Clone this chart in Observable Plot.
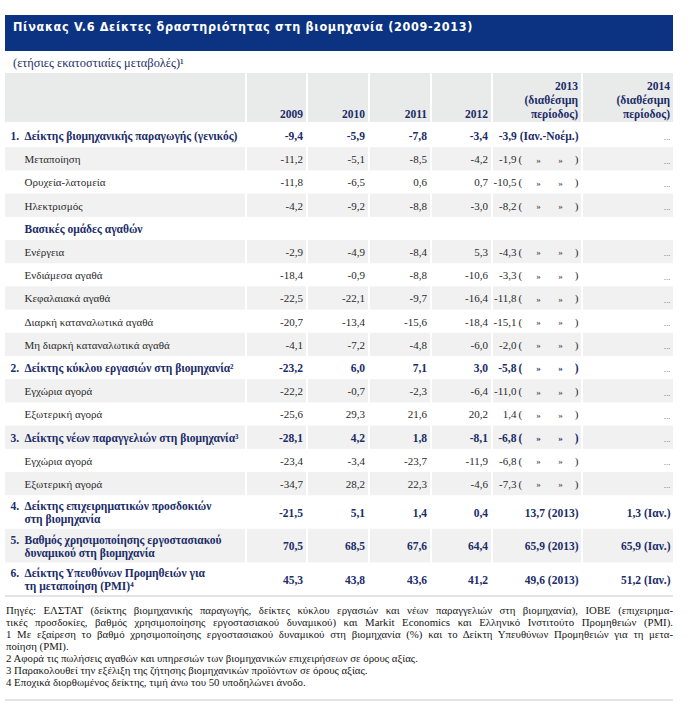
<!DOCTYPE html>
<html><head><meta charset="utf-8">
<script src="https://cdn.jsdelivr.net/npm/d3@7"></script>
<script src="https://cdn.jsdelivr.net/npm/@observablehq/plot@0.6"></script>
<style>
body{margin:0;background:#fff;width:691px;height:704px;position:relative;overflow:hidden;font-family:"Liberation Serif","Times New Roman",Times,"DejaVu Serif",serif;}
#title{position:absolute;left:5px;top:15px;width:668px;height:36px;background:#0b3382;}
#title span{position:absolute;left:8px;top:4px;color:#fff;font-weight:bold;font-size:12.5px;font-family:"DejaVu Sans Condensed","DejaVu Sans",sans-serif;letter-spacing:0.68px;line-height:16px;white-space:nowrap;}
#sub{position:absolute;left:13px;top:56px;font-size:12.4px;color:#1f2f6a;line-height:14px;white-space:nowrap;}
#chart{position:absolute;left:0;top:70px;}
#notes{position:absolute;left:5px;top:595px;width:667px;border-top:2px solid #e4e4e4;border-bottom:2px solid #e4e4e4;padding:6.9px 0 10.4px 1px;font-size:10.8px;line-height:12.1px;color:#151515;}
#notes div{white-space:nowrap;}
#notes div.j{text-align:justify;text-align-last:justify;white-space:normal;}
</style>
</head>
<body>
<div id="title"><span id="titletext"></span></div>
<div id="sub"></div>
<div id="chart"></div>
<div id="notes"></div>
<script>
// ---------- data ----------
const title = "Πίνακας V.6 Δείκτες δραστηριότητας στη βιομηχανία (2009-2013)";
const subtitle = "(ετήσιες εκατοστιαίες μεταβολές)¹";
const columnHeaders = ["", "2009", "2010", "2011", "2012", "2013\n(διαθέσιμη\nπερίοδος)", "2014\n(διαθέσιμη\nπερίοδος)"];
const itemNo = ["1.", "", "", "", "", "", "", "", "", "", "2.", "", "", "3.", "", "", "4.", "5.", "6."];
const labels = [
  "Δείκτης βιομηχανικής παραγωγής (γενικός)",
  "Μεταποίηση",
  "Ορυχεία-λατομεία",
  "Ηλεκτρισμός",
  "Βασικές ομάδες αγαθών",
  "Ενέργεια",
  "Ενδιάμεσα αγαθά",
  "Κεφαλαιακά αγαθά",
  "Διαρκή καταναλωτικά αγαθά",
  "Μη διαρκή καταναλωτικά αγαθά",
  "Δείκτης κύκλου εργασιών στη βιομηχανία²",
  "Εγχώρια αγορά",
  "Εξωτερική αγορά",
  "Δείκτης νέων παραγγελιών στη βιομηχανία³",
  "Εγχώρια αγορά",
  "Εξωτερική αγορά",
  "Δείκτης επιχειρηματικών προσδοκιών\nστη βιομηχανία",
  "Βαθμός χρησιμοποίησης εργοστασιακού\nδυναμικού στη βιομηχανία",
  "Δείκτης Υπευθύνων Προμηθειών για\nτη μεταποίηση (PMI)⁴"
];
const v2009 = [-9.4, -11.2, -11.8, -4.2, null, -2.9, -18.4, -22.5, -20.7, -4.1, -23.2, -22.2, -25.6, -28.1, -23.4, -34.7, -21.5, 70.5, 45.3];
const v2010 = [-5.9, -5.1, -6.5, -9.2, null, -4.9, -0.9, -22.1, -13.4, -7.2, 6.0, -0.7, 29.3, 4.2, -3.4, 28.2, 5.1, 68.5, 43.8];
const v2011 = [-7.8, -8.5, 0.6, -8.8, null, -8.4, -8.8, -9.7, -15.6, -4.8, 7.1, -2.3, 21.6, 1.8, -23.7, 22.3, 1.4, 67.6, 43.6];
const v2012 = [-3.4, -4.2, 0.7, -3.0, null, 5.3, -10.6, -16.4, -18.4, -6.0, 3.0, -6.4, 20.2, -8.1, -11.9, -4.6, 0.4, 64.4, 41.2];
const v2013 = [-3.9, -1.9, -10.5, -8.2, null, -4.3, -3.3, -11.8, -15.1, -2.0, -5.8, -11.0, 1.4, -6.8, -6.8, -7.3, 13.7, 65.9, 49.6];
const period2013 = ["Ιαν.-Νοέμ.", "»", "»", "»", null, "»", "»", "»", "»", "»", "»", "»", "»", "»", "»", "»", "2013", "2013", "2013"];
const v2014 = [null, null, null, null, null, null, null, null, null, null, null, null, null, null, null, null, 1.3, 65.9, 51.2];
const period2014 = [null, null, null, null, null, null, null, null, null, null, null, null, null, null, null, null, "Ιαν.", "Ιαν.", "Ιαν."];
const notes = [
  "Πηγές: ΕΛΣΤΑΤ (δείκτης βιομηχανικής παραγωγής, δείκτες κύκλου εργασιών και νέων παραγγελιών στη βιομηχανία), ΙΟΒΕ (επιχειρημα-",
  "τικές προσδοκίες, βαθμός χρησιμοποίησης εργοστασιακού δυναμικού) και Markit Economics και Ελληνικό Ινστιτούτο Προμηθειών (PMI).",
  "1 Με εξαίρεση το βαθμό χρησιμοποίησης εργοστασιακού δυναμικού στη βιομηχανία (%) και το Δείκτη Υπευθύνων Προμηθειών για τη μετα-",
  "ποίηση (PMI).",
  "2 Αφορά τις πωλήσεις αγαθών και υπηρεσιών των βιομηχανικών επιχειρήσεων σε όρους αξίας.",
  "3 Παρακολουθεί την εξέλιξη της ζήτησης βιομηχανικών προϊόντων σε όρους αξίας.",
  "4 Εποχικά διορθωμένος δείκτης, τιμή άνω του 50 υποδηλώνει άνοδο."
];
const justifiedNotes = [true, true, true, false, false, false, false];

// ---------- layout (not data) ----------
const W = 691, H = 530;
const cols = [[5, 245], [247, 306], [308, 368], [370, 430], [432, 491], [493, 581], [583, 673]];
const headerY = [3, 52], rowTop = 54, rowH = 23.2, tallH = 33.6;
const navy = "#1b2c68", ink = "#2a2a2a", dots = "#666";
const headerFill = "#e9eaea", rowFill = "#f1f1f1";
const fs = 11, fsBold = 11.5;
const serif = '"Liberation Serif", "Times New Roman", Times, "DejaVu Serif", serif';

// ---------- build ----------
document.getElementById("titletext").textContent = title;
document.getElementById("sub").textContent = subtitle;
const notesEl = document.getElementById("notes");
notes.forEach((t, i) => {
  const d = document.createElement("div");
  d.textContent = t;
  if (justifiedNotes[i]) d.className = "j";
  notesEl.appendChild(d);
});

const fmt = v => v.toFixed(1).replace(".", ",");
const rows = labels.map((label, i) => ({i, label, no: itemNo[i], bold: itemNo[i] !== "" || i === 4, tall: label.includes("\n")}));
let yy = rowTop;
for (const r of rows) { r.y1 = yy; r.y2 = yy + (r.tall ? tallH : rowH); r.y = (r.y1 + r.y2) / 2; yy = r.y2; }

const headerCells = cols.map(([x1, x2]) => ({x1, x2, y1: headerY[0], y2: headerY[1]}));
const grayCells = rows.filter(r => r.i % 2 === 1).flatMap(r => cols.map(([x1, x2]) => ({x1, x2, y1: r.y1, y2: r.y2})));

const texts = [];
const push = (o) => texts.push(Object.assign({bold: false, anchor: "end", fill: ink, lh: 1.13}, o));
columnHeaders.forEach((h, c) => {
  if (!h) return;
  const n = h.split("\n").length;
  push({x: cols[c][1] - 3.5, y: 42.7 - (n - 1) * 13.6 / 2, text: h, bold: true, fill: navy, lh: 13.6 / fsBold});
});
const yearly = [v2009, v2010, v2011, v2012];
for (const r of rows) {
  const fill = r.bold ? navy : ink;
  push({x: cols[0][0] + 19, y: r.y, text: r.label, anchor: "start", bold: r.bold, fill});
  if (r.no) push({x: cols[0][0] + 5, y: r.tall ? r.y - 6.5 : r.y, text: r.no, anchor: "start", bold: true, fill});
  yearly.forEach((arr, k) => {
    const v = arr[r.i];
    if (v != null) push({x: cols[k + 1][1] - 3.5, y: r.y, text: fmt(v), bold: r.bold, fill});
  });
  const v13 = v2013[r.i], p13 = period2013[r.i];
  const c5 = cols[5];
  if (v13 != null) {
    if (p13 === "»") {
      push({x: c5[0] + 23, y: r.y, text: fmt(v13), bold: r.bold, fill});
      push({x: c5[0] + 25, y: r.y, text: "(", anchor: "start", bold: r.bold, fill});
      push({x: c5[0] + 45, y: r.y, text: "»", anchor: "middle", bold: r.bold, fill, small: true});
      push({x: c5[0] + 67, y: r.y, text: "»", anchor: "middle", bold: r.bold, fill, small: true});
      push({x: c5[1] - 3, y: r.y, text: ")", bold: r.bold, fill});
    } else {
      push({x: c5[1] - 3, y: r.y, text: `${fmt(v13)} (${p13})`, bold: r.bold, fill});
    }
  }
  if (r.i !== 4) {
    const v14 = v2014[r.i];
    if (v14 != null) push({x: cols[6][1] - 3, y: r.y, text: `${fmt(v14)} (${period2014[r.i]})`, bold: r.bold, fill});
    else push({x: cols[6][1] - 3, y: r.y + 1, text: "...", fill: dots, small: true});
  }
}

const groups = d3.groups(texts, d => [d.bold, d.anchor, d.fill, d.lh, !!d.small].join("|"));
const textMarks = groups.map(([key, arr]) => {
  const d0 = arr[0];
  return Plot.text(arr, {
    x: "x", y: "y", text: "text",
    textAnchor: d0.anchor, fill: d0.fill,
    fontWeight: d0.bold ? "bold" : "normal",
    fontSize: d0.small ? 9 : (d0.bold ? fsBold : fs), lineHeight: d0.lh,
    fontFamily: serif
  });
});

const chart = Plot.plot({
  width: W, height: H, margin: 0,
  x: {type: "linear", domain: [0, W], range: [0, W], axis: null},
  y: {type: "linear", domain: [0, H], range: [0, H], axis: null},
  style: {background: "white", fontFamily: serif},
  marks: [
    Plot.rect(headerCells, {x1: "x1", x2: "x2", y1: "y1", y2: "y2", fill: headerFill}),
    Plot.rect(grayCells, {x1: "x1", x2: "x2", y1: "y1", y2: "y2", fill: rowFill}),
    ...textMarks
  ]
});
document.getElementById("chart").appendChild(chart);
</script>
</body></html>
